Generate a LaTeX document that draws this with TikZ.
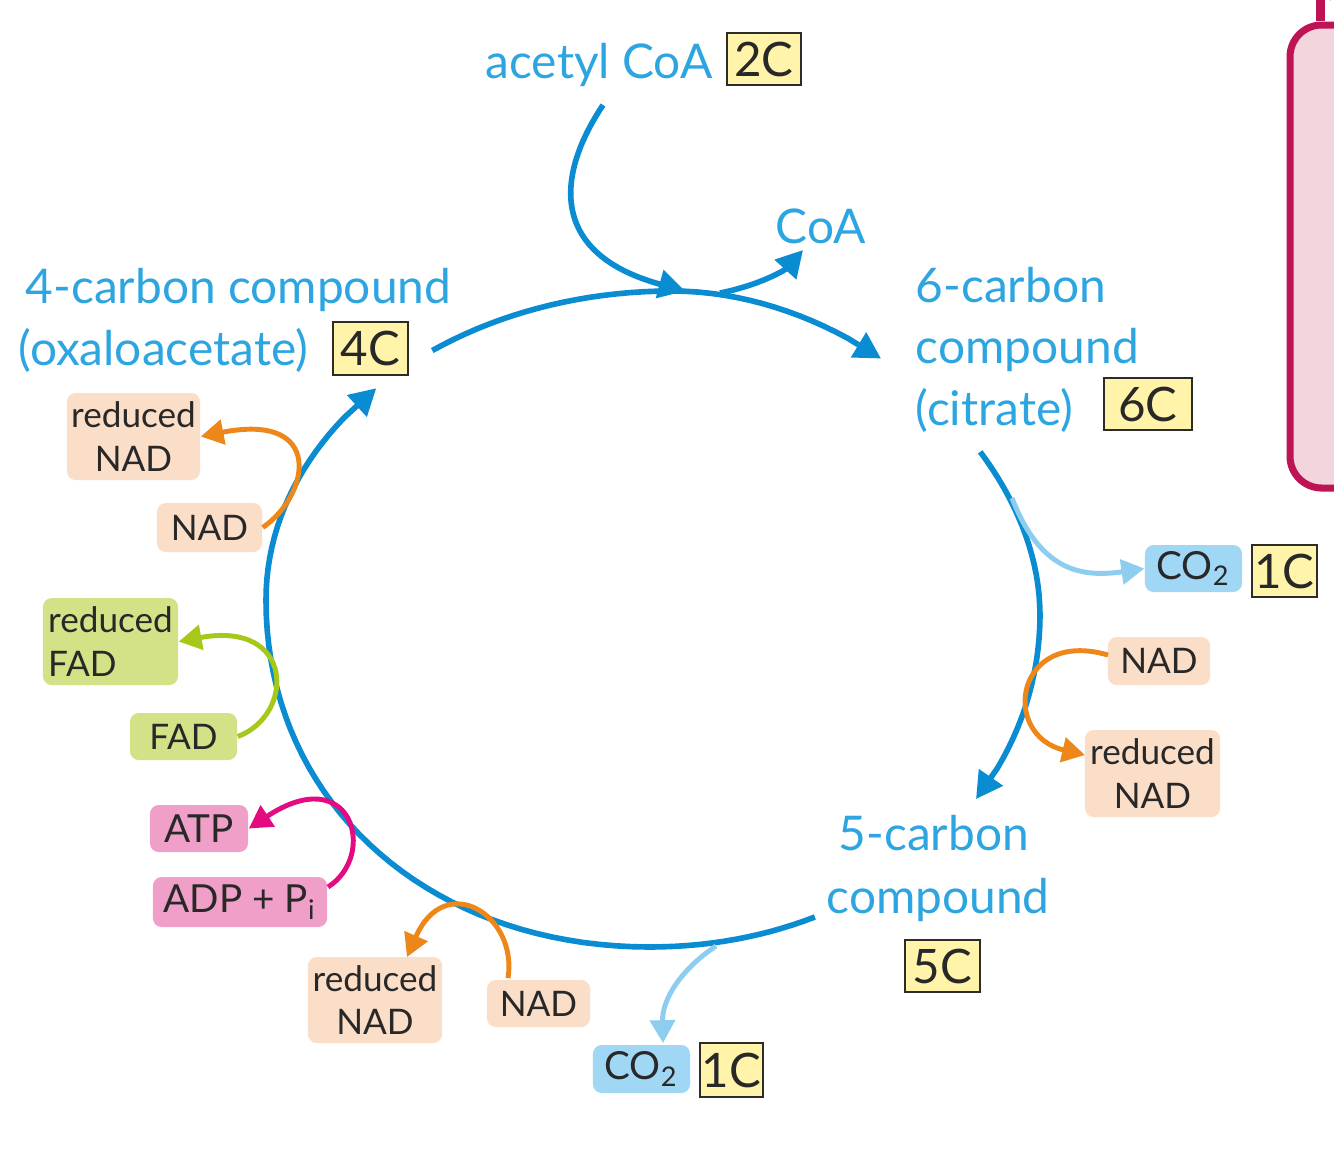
\documentclass[tikz,border=0pt]{standalone}
\usepackage{fontspec}
\setmainfont{Lato}
\usetikzlibrary{arrows.meta}
\definecolor{cyc}{RGB}{10,140,210}
\definecolor{lbl}{RGB}{45,165,225}
\definecolor{boxfill}{RGB}{255,244,170}
\definecolor{boxline}{RGB}{45,45,40}
\definecolor{peach}{RGB}{251,222,200}
\definecolor{orng}{RGB}{238,135,25}
\definecolor{fadfill}{RGB}{212,226,135}
\definecolor{grn}{RGB}{165,200,25}
\definecolor{atpfill}{RGB}{240,160,200}
\definecolor{pnk}{RGB}{228,10,130}
\definecolor{cofill}{RGB}{160,215,245}
\definecolor{lblue}{RGB}{140,205,240}
\definecolor{panelfill}{RGB}{243,213,222}
\definecolor{panelline}{RGB}{190,20,85}
\definecolor{ink}{RGB}{40,40,40}
\tikzset{
  bluelbl/.style={text=lbl, font=\fontsize{13.6}{16}\selectfont, inner sep=0pt, anchor=base west},
  cbox/.style={draw=boxline, fill=boxfill, line width=0.8pt, inner sep=0pt, text=ink,
     font=\fontsize{13.5}{14}\selectfont},
  mol/.style={rounded corners=2.5pt, inner sep=0pt, text=ink, align=center,
     font=\fontsize{10}{12.5}\selectfont},
  nadbox/.style={mol, fill=peach},
  fadbox/.style={mol, fill=fadfill},
  atpbox/.style={mol, fill=atpfill},
  cobox/.style={mol, fill=cofill, font=\fontsize{11}{12}\selectfont},
  cycarrow/.style={draw=cyc, line width=1.6pt, -{Triangle[length=7.5pt,width=8pt]}},
  orarrow/.style={draw=orng, line width=1.4pt, -{Triangle[length=6.5pt,width=7pt]}},
  grarrow/.style={draw=grn, line width=1.4pt, -{Triangle[length=6.5pt,width=7pt]}},
  pkarrow/.style={draw=pnk, line width=1.4pt, -{Triangle[length=6.5pt,width=7pt]}},
  lbarrow/.style={draw=lblue, line width=1.4pt, -{Triangle[length=6.5pt,width=7pt]}},
}
\begin{document}
\begin{tikzpicture}[x=0.01cm,y=-0.01cm,
  declare function={bz(\t,\a,\b,\c,\d)=(1-\t)^3*\a+3*(1-\t)^2*\t*\b+3*(1-\t)*\t^2*\c+\t^3*\d;}]
\useasboundingbox (0,0) rectangle (1334,1162);
\fill[white] (0,0) rectangle (1334,1162);
% partial panel at right edge
\begin{scope}
\clip (0,0) rectangle (1334,1162);
\draw[panelline, fill=panelfill, line width=2pt, rounded corners=9pt] (1290,25) rectangle (1420,488);
\draw[panelline, fill=white, line width=2pt] (1330,-5) circle[radius=0.52];
\fill[panelline] (1316,0) rectangle (1325,21);
\end{scope}

% labels
\node[bluelbl] (acetyl) at (485,78) {acetyl CoA};
\node[cbox, minimum width=0.74cm, minimum height=0.52cm] (twoC) at (764,59) {2C};
\node[bluelbl] (coa) at (775,243) {CoA};
\node[bluelbl] (fourA) at (25,303) {4-carbon compound};
\node[bluelbl] (fourB) at (18,365) {(oxaloacetate)};
\node[cbox, minimum width=0.75cm, minimum height=0.53cm] (fourC) at (370.5,348.5) {4C};
\node[bluelbl] (sixA) at (915,302) {6-carbon};
\node[bluelbl] (sixB) at (915,363) {compound};
\node[bluelbl] (sixCt) at (915,425) {(citrate)};
\node[cbox, minimum width=0.88cm, minimum height=0.52cm] (sixC) at (1148,404) {6C};
\node[bluelbl] (fiveA) at (838,850) {5-carbon};
\node[bluelbl] (fiveB) at (826,913) {compound};
\node[cbox, minimum width=0.75cm, minimum height=0.52cm] (fiveC) at (942.5,966) {5C};

% molecule boxes
\node[cobox, minimum width=0.97cm, minimum height=0.47cm] (coR) at (1193.5,568.5) {CO\textsubscript{2}};
\node[cbox, minimum width=0.65cm, minimum height=0.52cm] (oneR) at (1284.5,571) {1C};
\node[cobox, minimum width=0.97cm, minimum height=0.48cm] (coB) at (641.5,1069) {CO\textsubscript{2}};
\node[cbox, minimum width=0.63cm, minimum height=0.54cm] (oneB) at (731.5,1070) {1C};
\node[nadbox, minimum width=1.02cm, minimum height=0.48cm] (nadR) at (1159,661) {NAD};
\node[nadbox, minimum width=1.35cm, minimum height=0.87cm] (rnadR) at (1152.5,773.5) {reduced\\NAD};
\node[nadbox, minimum width=1.33cm, minimum height=0.87cm] (rnadL) at (133.5,436.5) {reduced\\NAD};
\node[nadbox, minimum width=1.05cm, minimum height=0.49cm] (nadL) at (209.5,527.5) {NAD};
\node[fadbox, minimum width=1.35cm, minimum height=0.87cm, align=left] (rfad) at (110.5,641.5) {reduced\\FAD};
\node[fadbox, minimum width=1.07cm, minimum height=0.47cm] (fad) at (183.5,736.5) {FAD};
\node[atpbox, minimum width=0.98cm, minimum height=0.47cm, font=\fontsize{11}{12}\selectfont] (atp) at (199,828.5) {ATP};
\node[atpbox, minimum width=1.74cm, minimum height=0.50cm, font=\fontsize{11}{12}\selectfont] (adp) at (240,902) {ADP + P\textsubscript{i}};
\node[nadbox, minimum width=1.34cm, minimum height=0.86cm] (rnadB) at (375,1000) {reduced\\NAD};
\node[nadbox, minimum width=1.03cm, minimum height=0.47cm] (nadB) at (538.5,1003.5) {NAD};

% cycle end points
\coordinate (e6) at (881,358.5);
\coordinate (e5) at (976,799);
\coordinate (e4) at (376.3,388.2);

% main cycle: 4C -> 6C
\draw[cycarrow]
  plot[domain=0.6:1, samples=20, variable=\t] ({bz(\t,266,266,448,672)},{bz(\t,600,429,291,291)})
  -- plot[domain=0:0.33, samples=15, variable=\t] ({bz(\t,672,856,1040,1040)},{bz(\t,291,291,453,615)})
  -- (e6);
% 6C -> 5C
\draw[cycarrow]
  plot[domain=0.65:1, samples=18, variable=\t] ({bz(\t,672,856,1040,1040)},{bz(\t,291,291,453,615)})
  -- plot[domain=0:0.3, samples=15, variable=\t] ({bz(\t,1040,1040,870,650)},{bz(\t,615,800,947,947)})
  -- (e5);
% 5C -> 4C
\draw[cycarrow]
  plot[domain=0.73:1, samples=15, variable=\t] ({bz(\t,1040,1040,870,650)},{bz(\t,615,800,947,947)})
  -- plot[domain=0:1, samples=40, variable=\t] ({bz(\t,650,427,266,266)},{bz(\t,947,947,801,600)})
  -- plot[domain=0:0.4, samples=20, variable=\t] ({bz(\t,266,266,448,672)},{bz(\t,600,429,291,291)})
  -- (e4);

% acetyl CoA in, CoA out
\coordinate (ac) at (603,105);
\coordinate (join) at (685,291);
\coordinate (coas) at (720,293);
\coordinate (coae) at (803,250);
\draw[cycarrow] (ac) .. controls (553,180) and (553,255) .. (join);
\draw[cycarrow] (coas) .. controls (760,285) and (785,270) .. (coae);

% side reactions
\coordinate (cor1) at (1012,498);
\draw[lbarrow] (cor1) .. controls (1040,570) and (1080,578) .. (coR.west);
\coordinate (nro) at (1108,655);
\coordinate (rnri) at (1085,755);
\draw[orarrow] (nro) .. controls (1015,628) and (1000,735) .. (rnri);
\draw[orarrow] (nadL.east) .. controls (310,495) and (325,412) .. (rnadL.east);
\draw[grarrow] (fad.east) .. controls (295,715) and (295,620) .. (rfad.east);
\coordinate (adpo) at (328,887);
\draw[pkarrow] (adpo) .. controls (378,855) and (352,760) .. (atp.east);
\coordinate (nbo) at (508,978);
\coordinate (rnbi) at (407,957);
\draw[orarrow] (nbo) .. controls (518,915) and (445,870) .. (rnbi);
\coordinate (cob1) at (716,946);
\coordinate (cobi) at (663,1043);
\draw[lbarrow] (cob1) .. controls (680,970) and (662,1000) .. (cobi);
\end{tikzpicture}
\end{document}
